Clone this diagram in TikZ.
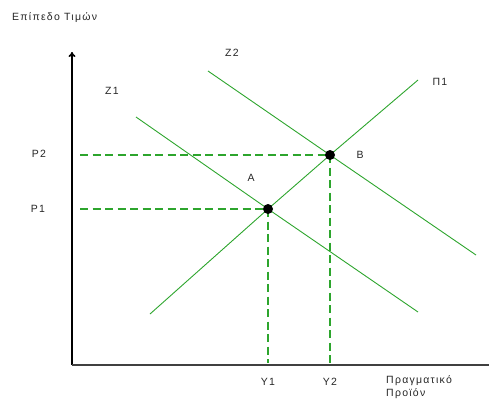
\documentclass[tikz,border=0pt]{standalone}
\usepackage{fontspec}
\newfontfamily\lblfont[LetterSpace=12]{Liberation Sans}
\usepackage{tikz}
\usetikzlibrary{arrows.meta,positioning,calc,intersections}
\definecolor{grn}{RGB}{45,165,45}

\begin{document}
\begin{tikzpicture}[
  x=1pt,y=-1pt,
  every node/.style={font=\lblfont\fontsize{10.5}{13}\selectfont,text=black!85,inner sep=1pt},
  axis/.style={line width=1.7pt},
  curve/.style={draw=grn,line width=.9pt},
  dropline/.style={draw=grn,line width=1.6pt,dash pattern=on 8pt off 4.5pt},
  dot/.style={circle,fill=black,inner sep=0pt,minimum size=10pt}
]
\useasboundingbox (0,0) rectangle (489,408);

% axes
\coordinate (O) at (72,365);
\coordinate (ytop) at (72,52);
\coordinate (xend) at (489,365);
\draw[axis,-{To[length=5pt,width=7pt]}] (O) -- (ytop);
\draw[axis,draw=black!75] (O) -- (xend);
\node[anchor=west] (ylab) at (11,18) {Επίπεδο Τιμών};
\node[anchor=north west,align=left] (xlab) at (385,374) {Πραγματικό\\Προϊόν};

% equilibria
\coordinate (A) at (268,209);
\coordinate (B) at (330,155);
\coordinate (pa) at (80,209);
\coordinate (pb) at (80,155);
\coordinate (ya) at (268,363);
\coordinate (yb) at (330,363);
\draw[dropline] (pa) -- (A) (pb) -- (B) (A) -- (ya) (B) -- (yb);

% supply and demand
\coordinate (p1s) at (150,314);
\coordinate (p1e) at (418,80);
\coordinate (z1s) at (136,117);
\coordinate (z1e) at (418,312);
\coordinate (z2s) at (208,71);
\coordinate (z2e) at (476,255);
\draw[curve] (p1s) -- (A) -- (B) -- (p1e);
\draw[curve] (z1s) -- (A) -- (z1e);
\draw[curve] (z2s) -- (B) -- (z2e);

\node (pilab) at (440,82) {Π1};
\node (z1lab) at (112,91) {Ζ1};
\node (z2lab) at (232,53) {Ζ2};

\node[dot] (ptA) at (A) {};
\node[dot] (ptB) at (B) {};
\node (alab) at (251,178) {A};
\node (blab) at (360,155) {B};

\node (p1lab) at (38,209) {P1};
\node (p2lab) at (39,154) {P2};
\node (y1lab) at (A |- 0,382) {Y1};
\node (y2lab) at (B |- 0,382) {Y2};
\end{tikzpicture}
\end{document}
